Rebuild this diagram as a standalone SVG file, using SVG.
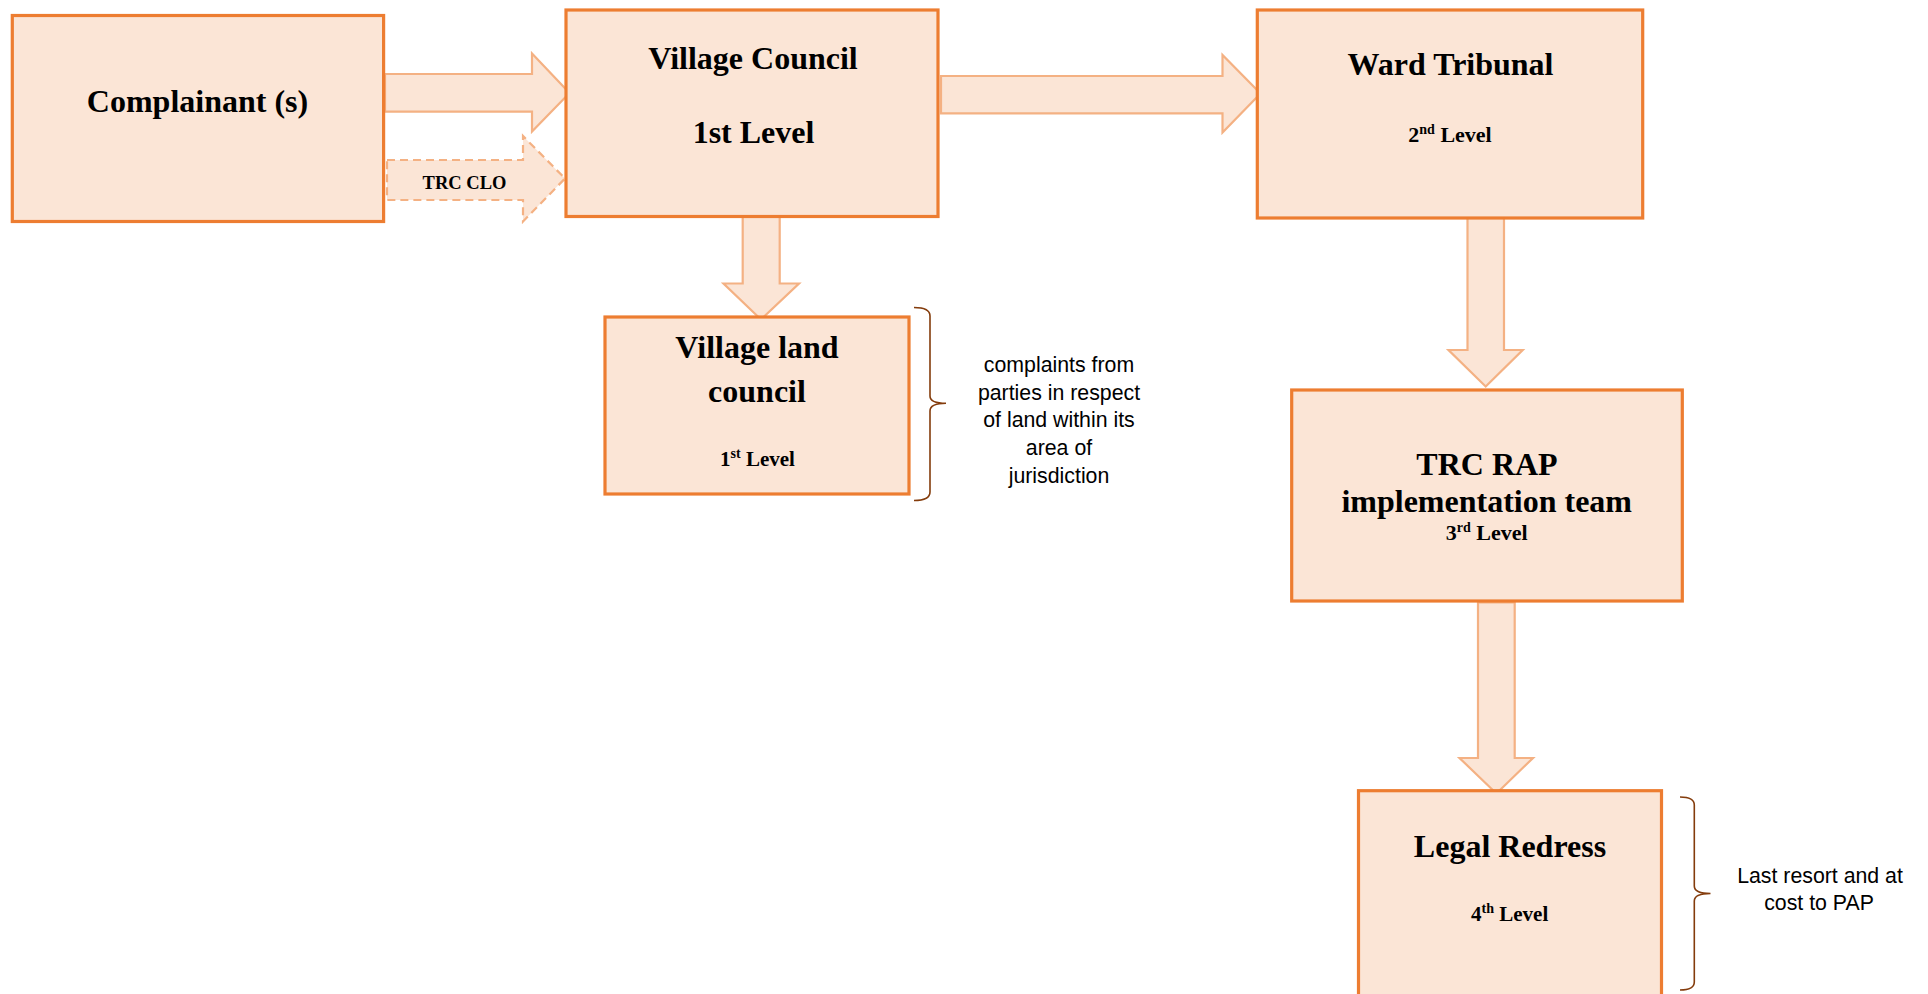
<svg xmlns="http://www.w3.org/2000/svg" width="1928" height="994" viewBox="0 0 1928 994">
  <style>
    .box { fill: #FBE5D6; stroke: #ED7D31; stroke-width: 3.2; }
    .arrow { fill: #FBE5D6; stroke: #F4B183; stroke-width: 2.2; stroke-linejoin: miter; }
    .dashed { stroke-dasharray: 8 5; }
    .brace { fill: none; stroke: #843C0C; stroke-width: 1.6; }
    .title { font-family: "Liberation Serif", "Times New Roman", serif; font-weight: bold; font-size: 32px; fill: #000; text-anchor: middle; }
    .level { font-family: "Liberation Serif", "Times New Roman", serif; font-weight: bold; font-size: 22px; fill: #000; text-anchor: middle; }
    .sup { font-size: 14px; }
    .label { font-family: "Liberation Serif", "Times New Roman", serif; font-weight: bold; font-size: 18.5px; fill: #000; text-anchor: middle; }
    .note { font-family: "Liberation Sans", Arial, sans-serif; font-size: 21.3px; fill: #000; text-anchor: middle; }
  </style>

  <!-- block arrows between the levels -->
  <g id="connectors">
    <polygon class="arrow" points="385,74 532,74 532,53.5 569.5,93 532,131.5 532,111.7 385,111.7"/>
    <polygon class="arrow dashed" points="387,160 523,160 523,136 565,178.5 523,221.5 523,200 387,200"/>
    <text class="label" x="464.5" y="188.5">TRC CLO</text>
    <polygon class="arrow" points="941,76 1222.5,76 1222.5,55 1260.5,93.5 1222.5,132.5 1222.5,113.3 941,113.3"/>
    <polygon class="arrow" points="742.7,216 779.7,216 779.7,283.5 799,283.5 761,319.5 723.5,283.5 742.7,283.5"/>
    <polygon class="arrow" points="1467.5,216 1504,216 1504,350 1522.7,350 1485.7,386.5 1448.5,350 1467.5,350"/>
    <polygon class="arrow" points="1478,602.5 1514.7,602.5 1514.7,758 1533,758 1496.4,793.5 1459.5,758 1478,758"/>
  </g>

  <g id="complainant">
    <rect class="box" x="12.3" y="15.5" width="371.3" height="206"/>
    <text class="title" x="197.5" y="111.5">Complainant (s)</text>
  </g>

  <g id="village-council">
    <rect class="box" x="566" y="10" width="372" height="206.5"/>
    <text class="title" x="753" y="69.3">Village Council</text>
    <text class="title" x="753.5" y="142.7">1st Level</text>
  </g>

  <g id="ward-tribunal">
    <rect class="box" x="1257.3" y="10" width="385.4" height="208"/>
    <text class="title" x="1450.5" y="75">Ward Tribunal</text>
    <text class="level" x="1450" y="141.7">2<tspan class="sup" dy="-8">nd</tspan><tspan dy="8"> Level</tspan></text>
  </g>

  <g id="village-land-council">
    <rect class="box" x="605" y="317" width="304" height="177"/>
    <text class="title" x="757" y="358.3">Village land</text>
    <text class="title" x="757" y="401.7">council</text>
    <text class="level" x="757.5" y="465.7" style="font-size:21px">1<tspan class="sup" dy="-8">st</tspan><tspan dy="8"> Level</tspan></text>
  </g>

  <g id="village-land-note">
    <path class="brace" d="M914,307.5 Q930,307.5 930,316 L930,396 Q930,403.3 946,403.3 Q930,403.3 930,411 L930,492 Q930,500.5 914,500.5"/>
    <text class="note" x="1059" y="371.7">complaints from</text>
    <text class="note" x="1059" y="399.5">parties in respect</text>
    <text class="note" x="1059" y="427.3">of land within its</text>
    <text class="note" x="1059" y="455">area of</text>
    <text class="note" x="1059" y="483">jurisdiction</text>
  </g>

  <g id="trc-rap-team">
    <rect class="box" x="1291.7" y="390" width="390.6" height="211"/>
    <text class="title" x="1487" y="475">TRC RAP</text>
    <text class="title" x="1486.7" y="511.7">implementation team</text>
    <text class="level" x="1486.7" y="540">3<tspan class="sup" dy="-8">rd</tspan><tspan dy="8"> Level</tspan></text>
  </g>

  <g id="legal-redress">
    <rect class="box" x="1358.5" y="790.7" width="303" height="220"/>
    <text class="title" x="1510" y="856.7">Legal Redress</text>
    <text class="level" x="1509.7" y="920.5" style="font-size:21px">4<tspan class="sup" dy="-8">th</tspan><tspan dy="8"> Level</tspan></text>
  </g>

  <g id="legal-redress-note">
    <path class="brace" d="M1680,797 Q1694.3,797 1694.3,805 L1694.3,886 Q1694.3,893.5 1710.5,893.5 Q1694.3,893.5 1694.3,901 L1694.3,982 Q1694.3,990 1680,990"/>
    <text class="note" x="1820" y="882.7">Last resort and at</text>
    <text class="note" x="1819" y="910">cost to PAP</text>
  </g>
</svg>
